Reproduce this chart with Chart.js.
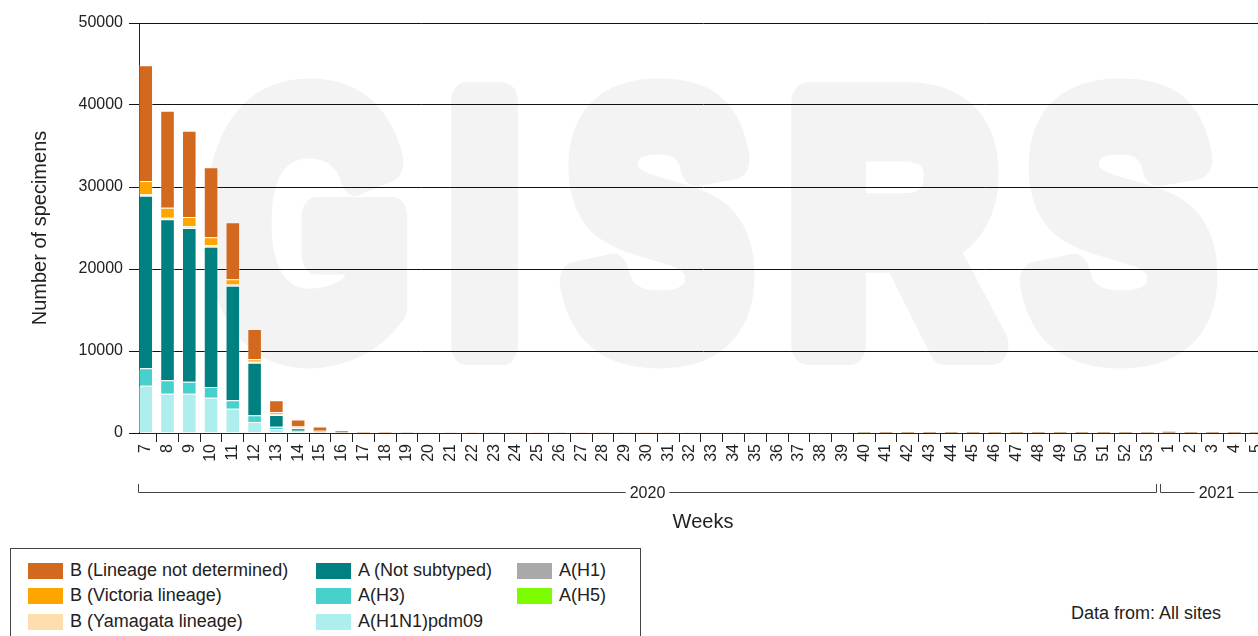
<!DOCTYPE html>
<html>
<head>
<meta charset="utf-8">
<script src="https://cdn.jsdelivr.net/npm/chart.js@4.4.1/dist/chart.umd.min.js"></script>
<style>
body { margin: 0; background: #fff; overflow: hidden; font-family: "Liberation Sans", Arial, sans-serif; }
#wrap { position: relative; width: 1258px; height: 636px; overflow: hidden; }
#chart { position: absolute; left: 0; top: 0; }
#legend { position: absolute; left: 10px; top: 548px; width: 631px; height: 110px; border: 1px solid #444; box-sizing: border-box; }
.item { position: absolute; font-size: 18px; color: #222; white-space: nowrap; line-height: 20px; }
.item .sw { display: inline-block; width: 35px; height: 16px; vertical-align: -3px; margin-right: 7px; }
#source { position: absolute; left: 1071px; top: 603px; font-size: 18px; color: #222; white-space: nowrap; }
</style>
</head>
<body>
<div id="wrap">
  <canvas id="chart" width="1267" height="545"></canvas>
  <div id="legend"></div>
  <div id="source">Data from: All sites</div>
</div>
<script>
var weeks2020 = ['7','8','9','10','11','12','13','14','15','16','17','18','19','20','21','22','23','24','25','26',
    '27','28','29','30','31','32','33','34','35','36','37','38','39','40','41','42','43','44','45','46',
    '47','48','49','50','51','52','53'];
var weeks2021 = ['1','2','3','4','5'];
var years = ['2020', '2021'];
var weekLabels = weeks2020.concat(weeks2021);

// weeks 7..18 | 19..39 | 40..53 | 2021 1..5
var h1n1pdm = [5770,4800,4800,4310,2970,1340,490,160,20,10,5,5,
    0,0,0,0,0,0,0,0,0,0,0,0,0,0,0,0,0,0,0,0,0,
    0,0,0,0,0,0,0,0,0,0,0,0,0,0,
    0,0,0,0,0];
var h3 = [2120,1620,1460,1300,1010,810,280,120,10,5,0,0,
    0,0,0,0,0,0,0,0,0,0,0,0,0,0,0,0,0,0,0,0,0,
    0,0,0,0,0,0,0,0,0,0,0,0,0,0,
    0,0,0,0,0];
var h1 = [0,0,0,0,0,0,0,0,0,0,0,0,
    0,0,0,0,0,0,0,0,0,0,0,0,0,0,0,0,0,0,0,0,0,
    0,0,0,0,0,0,0,0,0,0,0,0,0,0,
    0,0,0,0,0];
var h5 = [0,0,0,0,0,0,0,0,0,0,0,0,
    0,0,0,0,0,0,0,0,0,0,0,0,0,0,0,0,0,0,0,0,0,
    0,0,0,0,0,0,0,0,0,0,0,0,0,0,
    0,0,0,0,0];
var notSubtyped = [21050,19640,18740,17110,13980,6430,1430,300,40,15,10,5,
    5,0,0,0,0,0,0,0,0,0,0,0,0,0,0,0,0,0,0,0,0,
    5,5,5,5,5,5,5,5,5,5,5,5,5,5,
    10,5,5,5,5];
var yamagata = [200,200,200,200,150,100,120,80,30,5,5,0,
    0,0,0,0,0,0,0,0,0,0,0,0,0,0,0,0,0,0,0,0,0,
    0,0,0,0,0,0,0,0,0,0,0,0,0,0,
    0,0,0,0,0];
var victoria = [1600,1220,1140,940,630,300,200,200,180,40,20,15,
    5,0,0,0,0,0,0,0,0,0,0,0,0,0,0,0,0,0,0,0,0,
    5,5,5,5,5,5,5,5,5,5,5,5,5,5,
    10,5,5,5,5];
var bUndetermined = [14100,11820,10530,8540,6950,3700,1460,800,500,260,130,110,
    30,20,15,10,10,10,10,10,10,10,10,15,15,20,20,25,30,35,40,50,60,
    90,100,100,110,110,120,110,120,110,100,110,110,100,90,
    260,110,100,100,90];

// bottom of the stack first
var seriesNames = ['A(H1N1)pdm09','A(H3)','A(H1)','A(H5)','A (Not subtyped)',
    'B (Yamagata lineage)','B (Victoria lineage)','B (Lineage not determined)'];
var seriesData = [h1n1pdm, h3, h1, h5, notSubtyped, yamagata, victoria, bUndetermined];
var seriesColors = ['#AFEEEE','#48D1CC','#A9A9A9','#7CFC00','#008080','#FFDEAD','#FFA500','#D2691E'];
var legendOrder = ['B (Lineage not determined)','B (Victoria lineage)','B (Yamagata lineage)',
    'A (Not subtyped)','A(H3)','A(H1N1)pdm09','A(H1)','A(H5)'];

Chart.defaults.font.family = '"Liberation Sans", Arial, sans-serif';
Chart.defaults.color = '#222';

// big faint GISRS behind the bars (heavy condensed look: bold text + fat stroke, squeezed per letter)
var wmLetters = [['G',203,408],['I',450,520],['S',556,758],['R',790,1009],['S',1016,1221]];
var wmStroke = 40;
var watermark = {
    id: 'watermark',
    beforeDraw: function(chart) {
        var c = chart.ctx;
        c.save();
        c.fillStyle = '#fff';
        c.fillRect(0, 0, chart.width, chart.height);
        c.fillStyle = '#f3f3f3';
        c.strokeStyle = '#f3f3f3';
        c.lineWidth = wmStroke;
        c.lineJoin = 'round';
        c.font = 'bold 353px "Liberation Sans", Arial, sans-serif';
        c.textAlign = 'left';
        c.textBaseline = 'alphabetic';
        wmLetters.forEach(function(l) {
            var m = c.measureText(l[0]);
            var inkW = m.actualBoundingBoxLeft + m.actualBoundingBoxRight + wmStroke;
            var ox = m.actualBoundingBoxLeft + wmStroke / 2;
            c.save();
            c.translate(l[1], 345);
            c.scale((l[2] - l[1]) / inkW, 1);
            c.fillText(l[0], ox, 0);
            c.strokeText(l[0], ox, 0);
            c.restore();
        });
        c.restore();
    }
};

// year brackets under the week labels
var yearBracket = {
    id: 'yearBracket',
    afterDraw: function(chart) {
        var xs = chart.scales.x, c = chart.ctx, area = chart.chartArea;
        var yTop = area.bottom + 51, yLine = Math.round(area.bottom + 59) + 0.5;
        var counts = [weeks2020.length, weeks2021.length];
        var start = 0;
        c.save();
        c.strokeStyle = '#444';
        c.lineWidth = 1;
        c.font = '16px "Liberation Sans", Arial, sans-serif';
        c.fillStyle = '#222';
        c.textAlign = 'center';
        c.textBaseline = 'middle';
        years.forEach(function(yr, gi) {
            var n = counts[gi];
            var left = gi === 0 ? area.left - 1 : xs.getPixelForValue(start - 0.5) + 2;
            var right = gi === years.length - 1 ? area.right + 5 : xs.getPixelForValue(start + n - 0.5) - 2;
            left = Math.round(left) + 0.5;
            right = Math.round(right) + 0.5;
            var mid = (left + right) / 2;
            var tw = c.measureText(yr).width;
            c.beginPath();
            c.moveTo(left, yTop); c.lineTo(left, yLine); c.lineTo(mid - tw / 2 - 4, yLine);
            c.moveTo(mid + tw / 2 + 4, yLine); c.lineTo(right, yLine); c.lineTo(right, yTop);
            c.stroke();
            c.fillText(yr, mid, yLine + 1);
            start += n;
        });
        c.restore();
    }
};

var ctx = document.getElementById('chart').getContext('2d');
var chart = new Chart(ctx, {
    type: 'bar',
    data: {
        labels: weekLabels.map(function(w, i) { return i; }),
        datasets: seriesNames.map(function(name, i) {
            return { label: name, data: seriesData[i], backgroundColor: seriesColors[i] };
        })
    },
    options: {
        responsive: false,
        animation: false,
        layout: { padding: { top: 23, left: 0, right: 0, bottom: 0 } },
        plugins: { legend: { display: false }, tooltip: { enabled: false } },
        datasets: { bar: { categoryPercentage: 1, barPercentage: 0.67, borderWidth: 1, borderColor: 'rgba(255,255,255,0.35)' } },
        scales: {
            x: {
                type: 'linear', stacked: true, min: -0.31, max: 51.5, offset: false,
                afterBuildTicks: function(s) {
                    s.ticks = weekLabels.map(function(w, i) { return { value: i }; });
                },
                afterFit: function(s) { s.height = 112; s.paddingLeft = 0; s.paddingRight = 0; },
                ticks: {
                    autoSkip: false, minRotation: 90, maxRotation: 90, padding: 2,
                    font: { size: 16 }, color: '#222',
                    callback: function(v) { return weekLabels[v]; }
                },
                grid: { drawOnChartArea: false, drawTicks: true, tickLength: 9, color: '#222' },
                border: { color: '#222' },
                title: { display: true, text: 'Weeks', font: { size: 20 }, color: '#222', padding: { top: 0, bottom: 11 } }
            },
            y: {
                stacked: true, min: 0, max: 50000,
                afterFit: function(s) { s.width = 139; },
                ticks: { stepSize: 10000, font: { size: 16 }, color: '#222', padding: 6,
                    callback: function(v) { return String(v); } },
                grid: { color: '#111', tickLength: 10 },
                border: { color: '#222' },
                title: { display: true, text: 'Number of specimens', font: { size: 20 }, color: '#222', padding: { top: 28 } }
            }
        }
    },
    plugins: [watermark, yearBracket]
});

// legend box, three columns filled top to bottom
var legendCols = [17, 305, 506];
var legendRows = [11, 36, 62];
var legendBox = document.getElementById('legend');
legendOrder.forEach(function(name, k) {
    var ds = chart.data.datasets.find(function(d) { return d.label === name; });
    var el = document.createElement('div');
    el.className = 'item';
    el.style.left = legendCols[Math.floor(k / 3)] + 'px';
    el.style.top = legendRows[k % 3] + 'px';
    el.innerHTML = '<span class="sw" style="background:' + ds.backgroundColor + '"></span>' + name;
    legendBox.appendChild(el);
});
</script>
</body>
</html>
